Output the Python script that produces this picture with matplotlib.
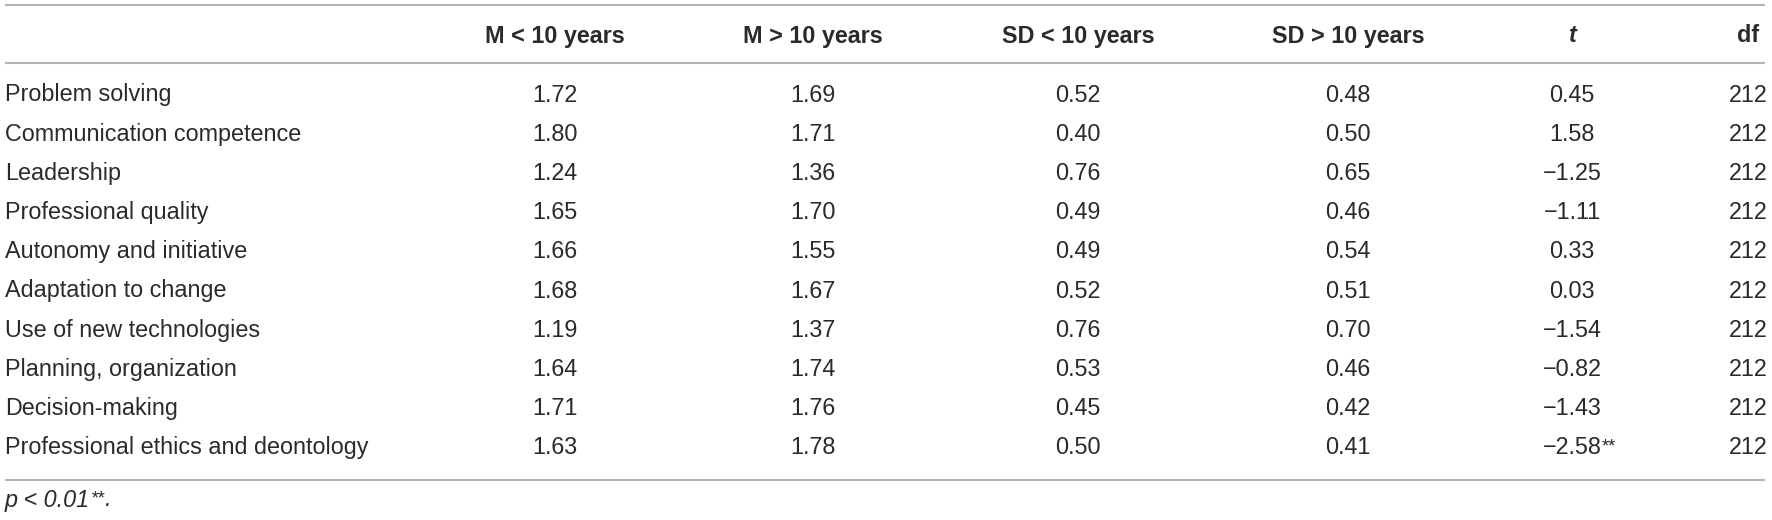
import matplotlib
matplotlib.use("Agg")
import matplotlib.pyplot as plt

# ---- data ----
headers = ["M < 10 years", "M > 10 years", "SD < 10 years", "SD > 10 years", "t", "df"]
rows = ["Problem solving", "Communication competence", "Leadership", "Professional quality",
        "Autonomy and initiative", "Adaptation to change", "Use of new technologies",
        "Planning, organization", "Decision-making", "Professional ethics and deontology"]
m_lt10 = ["1.72", "1.80", "1.24", "1.65", "1.66", "1.68", "1.19", "1.64", "1.71", "1.63"]
m_gt10 = ["1.69", "1.71", "1.36", "1.70", "1.55", "1.67", "1.37", "1.74", "1.76", "1.78"]
sd_lt10 = ["0.52", "0.40", "0.76", "0.49", "0.49", "0.52", "0.76", "0.53", "0.45", "0.50"]
sd_gt10 = ["0.48", "0.50", "0.65", "0.46", "0.54", "0.51", "0.70", "0.46", "0.42", "0.41"]
t_vals = ["0.45", "1.58", "\u22121.25", "\u22121.11", "0.33", "0.03", "\u22121.54", "\u22120.82", "\u22121.43", "\u22122.58"]
t_sig = ["", "", "", "", "", "", "", "", "", "**"]
df_vals = ["212"] * 10
footnote = "p < 0.01"

# ---- layout ----
W, H = 1772, 520
col_x = [555, 813, 1078, 1348, 1572, 1748]
label_x = 5
header_y = 36
row_y0, row_dy = 95, 39.2
lines_y = [5, 63, 480]
foot_y = 500
fs = 16.8
txt_color = "#2a2a2a"
line_color = "#b4b4b4"

plt.rcParams["font.family"] = ["Liberation Sans", "DejaVu Sans"]
fig = plt.figure(figsize=(W / 100, H / 100), dpi=100)
ax = fig.add_axes([0, 0, 1, 1])
ax.set_xlim(0, W)
ax.set_ylim(H, 0)
ax.axis("off")

for y in lines_y:
    ax.plot([5, 1765], [y, y], color=line_color, lw=1.5, solid_capstyle="butt")

for j, h in enumerate(headers):
    style = "italic" if h == "t" else "normal"
    ax.text(col_x[j], header_y, h, ha="center", va="center", fontsize=fs,
            fontweight="bold", fontstyle=style, color=txt_color)

columns = [m_lt10, m_gt10, sd_lt10, sd_gt10, t_vals, df_vals]
for i, name in enumerate(rows):
    y = row_y0 + i * row_dy
    ax.text(label_x, y, name, ha="left", va="center", fontsize=fs, color=txt_color)
    for j, col in enumerate(columns):
        tx = ax.text(col_x[j], y, col[i], ha="center", va="center", fontsize=fs, color=txt_color)
        if j == 4 and t_sig[i]:
            ax.annotate(t_sig[i], xy=(1, 1), xycoords=tx, xytext=(0.3, -1.5),
                        textcoords="offset points", ha="left", va="top",
                        fontsize=fs * 0.78, color=txt_color)

ft = ax.text(label_x, foot_y, footnote, ha="left", va="center", fontsize=fs,
             fontstyle="italic", color=txt_color)
st = ax.annotate("**", xy=(1, 1), xycoords=ft, xytext=(0.3, -1.5), textcoords="offset points",
                 ha="left", va="top", fontsize=fs * 0.78, fontstyle="italic", color=txt_color)
ax.annotate(".", xy=(1, 0), xycoords=(st, ft), xytext=(0, 0), textcoords="offset points",
            ha="left", va="bottom", fontsize=fs, fontstyle="italic", color=txt_color,
            annotation_clip=False)

fig.savefig("out.png", dpi=100)
